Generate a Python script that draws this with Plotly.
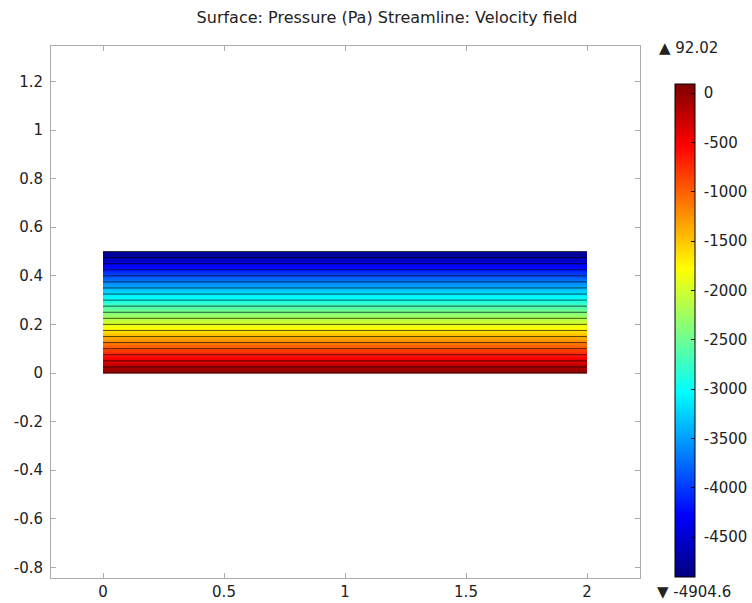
import plotly.graph_objects as go

# ---- data ----
title_text = "Surface: Pressure (Pa) Streamline: Velocity field"
x_cell_centers = [0.5, 1.5]
y_cell_centers = [0.0125, 0.0375, 0.0625, 0.0875, 0.1125, 0.1375, 0.1625, 0.1875,
                  0.2125, 0.2375, 0.2625, 0.2875, 0.3125, 0.3375, 0.3625, 0.3875,
                  0.4125, 0.4375, 0.4625, 0.4875]
pressure_rows = [-33, -283, -533, -782, -1032, -1282, -1532, -1782, -2032, -2281,
                 -2531, -2781, -3031, -3281, -3531, -3780, -4030, -4280, -4530, -4780]
p_max = 92.02
p_min = -4904.6
streamline_y = [0.0, 0.025, 0.05, 0.075, 0.1, 0.125, 0.15, 0.175, 0.2, 0.225, 0.25,
                0.275, 0.3, 0.325, 0.35, 0.375, 0.4, 0.425, 0.45, 0.475, 0.5]
streamline_x_start = 0.0
streamline_x_end = 2.0
x_ticks = [0, 0.5, 1, 1.5, 2]
x_tick_labels = ["0", "0.5", "1", "1.5", "2"]
y_ticks = [-0.8, -0.6, -0.4, -0.2, 0, 0.2, 0.4, 0.6, 0.8, 1, 1.2]
y_tick_labels = ["-0.8", "-0.6", "-0.4", "-0.2", "0", "0.2", "0.4", "0.6", "0.8", "1", "1.2"]
cb_ticks = [0, -500, -1000, -1500, -2000, -2500, -3000, -3500, -4000, -4500]
cb_tick_labels = ["0", "-500", "-1000", "-1500", "-2000", "-2500", "-3000", "-3500", "-4000", "-4500"]

jet = [[0.0, "#00007f"], [0.125, "#0000ff"], [0.375, "#00ffff"],
       [0.625, "#ffff00"], [0.875, "#ff0000"], [1.0, "#7f0000"]]

FONT = "DejaVu Sans"
TXT = "#222222"

# layout geometry (pixels)
W, H = 752, 603
L, R, T, B = 51, 640, 46, 578
pw, ph = R - L, B - T

fig = go.Figure()

z = [[v, v] for v in pressure_rows]
fig.add_trace(go.Heatmap(
    x=x_cell_centers, y=y_cell_centers, z=z,
    zmin=p_min, zmax=p_max, colorscale=jet, zsmooth="best",
    hoverinfo="skip",
    colorbar=dict(
        thickness=20, thicknessmode="pixels",
        len=493, lenmode="pixels",
        x=(675 - L) / pw, xanchor="left", xpad=0,
        y=(B - 330.5) / ph, yanchor="middle", ypad=0,
        outlinewidth=1, outlinecolor="#000000",
        tickvals=cb_ticks, ticktext=["\u00a0" + t for t in cb_tick_labels],
        ticks="inside", ticklen=4, tickcolor="#000000", tickwidth=1,
        tickfont=dict(family=FONT, size=15, color=TXT),
    ),
))

sx, sy = [], []
for yv in streamline_y:
    sx += [streamline_x_start, streamline_x_end, None]
    sy += [yv, yv, None]
fig.add_trace(go.Scatter(
    x=sx, y=sy, mode="lines",
    line=dict(color="rgba(0,0,0,0.65)", width=1),
    hoverinfo="skip", showlegend=False,
))

x_range = [-(103 - L) / 242.0, 2 + (R - 587) / 242.0]
y_range = [-(B - 373) / 243.0, (373 - T) / 243.0]

axis_common = dict(
    showgrid=False, zeroline=False, showline=True, linecolor="#aaaaaa", linewidth=1,
    mirror="ticks", ticks="inside", ticklen=5, tickcolor="#aaaaaa", tickwidth=1,
    tickfont=dict(family=FONT, size=15, color=TXT),
)
fig.update_xaxes(range=x_range, tickvals=x_ticks, ticktext=x_tick_labels, **axis_common)
fig.update_yaxes(range=y_range, tickvals=y_ticks, ticktext=y_tick_labels,
                 ticklabelstandoff=4, **axis_common)

fig.add_annotation(xref="paper", yref="paper", x=(657 - L) / pw, y=(B - 48) / ph,
                   text="▲ " + str(p_max), showarrow=False, xanchor="left", yanchor="middle",
                   font=dict(family=FONT, size=15, color=TXT))
fig.add_annotation(xref="paper", yref="paper", x=(655 - L) / pw, y=(B - 592) / ph,
                   text="▼ " + str(p_min), showarrow=False, xanchor="left", yanchor="middle",
                   font=dict(family=FONT, size=15, color=TXT))

fig.update_layout(
    width=W, height=H,
    margin=dict(l=L, r=W - R, t=T, b=H - B, pad=0, autoexpand=False),
    paper_bgcolor="white", plot_bgcolor="white",
    showlegend=False,
    title=dict(text=title_text, x=387 / W, xanchor="center", xref="container",
               y=1 - 17 / H, yanchor="middle", yref="container",
               font=dict(family=FONT, size=16, color=TXT)),
)

fig.write_html(
    "out.html",
    post_script="document.documentElement.style.margin='0';document.body.style.margin='0';"
                "document.documentElement.style.overflow='hidden';document.body.style.overflow='hidden';",
)
